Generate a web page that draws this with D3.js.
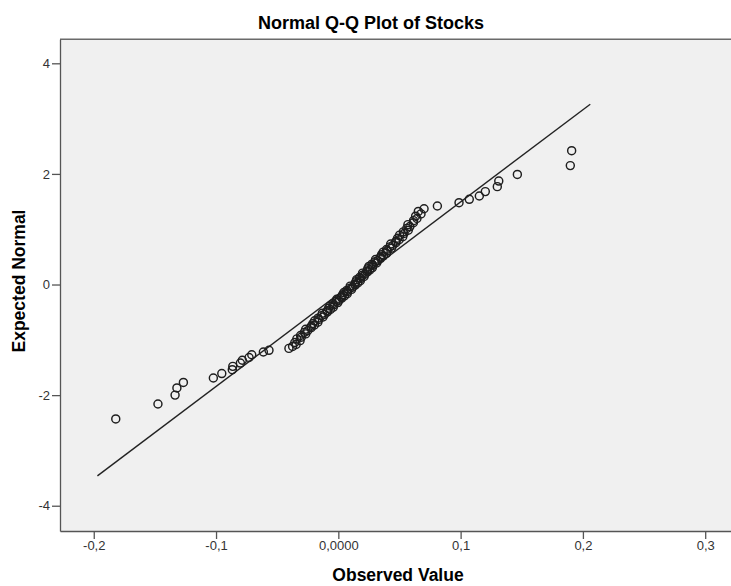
<!DOCTYPE html>
<html>
<head>
<meta charset="utf-8">
<script src="https://cdn.jsdelivr.net/npm/d3@7"></script>
<style>
body { margin: 0; background: #fff; }
svg { display: block; }
text { font-family: "Liberation Sans", Arial, sans-serif; }
</style>
</head>
<body>
<svg id="chart"></svg>
<script>
var observed = [
-0.182, -0.1475, -0.1335, -0.132, -0.1267, -0.1022, -0.0953, -0.0867, -0.0863, -0.0801,
-0.0785, -0.073, -0.0708, -0.0613, -0.0567, -0.0404, -0.0374,
-0.0345, -0.0356, -0.0313, -0.0339, -0.0303, -0.0309, -0.0267,
-0.0278, -0.0251, -0.0267, -0.0222, -0.0222, -0.0195, -0.0208,
-0.0167, -0.0194, -0.0160, -0.0166, -0.0125, -0.0137, -0.0113, -0.0131, -0.0089, -0.0091, -0.0065, -0.0080, -0.0041,
-0.0069, -0.0036, -0.0043, -0.0004, -0.0017, 0.0005, -0.0013, 0.0028, 0.0025, 0.0050,
0.0034, 0.0073, 0.0045, 0.0076, 0.0069, 0.0108, 0.0094, 0.0116, 0.0097, 0.0138,
0.0135, 0.0159, 0.0143, 0.0180, 0.0150, 0.0181, 0.0173, 0.0211, 0.0196, 0.0217,
0.0198, 0.0238, 0.0234, 0.0258, 0.0241, 0.0279, 0.0250, 0.0282, 0.0275, 0.0314,
0.0301, 0.0323, 0.0304, 0.0346, 0.0344, 0.0369, 0.0354, 0.0394, 0.0367, 0.0400,
0.0394, 0.0434, 0.0422, 0.0445, 0.0428, 0.0471, 0.0471,
0.0497, 0.0484, 0.0527, 0.0501, 0.0537, 0.0531, 0.0572,
0.0560, 0.0585, 0.0569,
0.0614, 0.0615, 0.0643, 0.0632, 0.0676, 0.0654,
0.0701, 0.081, 0.0987, 0.1071, 0.1153, 0.1202, 0.130, 0.1312, 0.1464, 0.1897, 0.1908
];
var expected = [
-2.43, -2.16, -2.00, -1.87, -1.77, -1.69, -1.61, -1.54, -1.48, -1.42,
-1.37, -1.32, -1.27, -1.22, -1.19, -1.155, -1.12,
-1.083, -1.048, -1.015, -0.983, -0.952, -0.922, -0.893,
-0.865, -0.836, -0.809, -0.782, -0.756, -0.731, -0.705,
-0.681, -0.657, -0.633, -0.609, -0.586, -0.563, -0.540, -0.518, -0.496, -0.474, -0.452, -0.431, -0.410,
-0.389, -0.368, -0.347, -0.327, -0.306, -0.286, -0.266, -0.246, -0.226, -0.206,
-0.186, -0.166, -0.146, -0.127, -0.107, -0.088, -0.068, -0.049, -0.029, -0.010,
0.010, 0.029, 0.049, 0.068, 0.088, 0.107, 0.127, 0.146, 0.166, 0.186,
0.206, 0.226, 0.246, 0.266, 0.286, 0.306, 0.327, 0.347, 0.368, 0.389,
0.410, 0.431, 0.452, 0.474, 0.496, 0.518, 0.540, 0.563, 0.586, 0.609,
0.633, 0.657, 0.681, 0.705, 0.731, 0.756, 0.782,
0.809, 0.836, 0.865, 0.893, 0.922, 0.952, 0.983,
1.015, 1.048, 1.083,
1.118, 1.155, 1.194, 1.235, 1.277, 1.322,
1.37, 1.42, 1.48, 1.54, 1.60, 1.68, 1.77, 1.87, 1.99, 2.15, 2.42
];

// reference line end points
var refX = [-0.197, 0.206];
var refY = [-3.46, 3.26];

var xTicks = [-0.2, -0.1, 0, 0.1, 0.2, 0.3];
var xTickLabels = ["-0,2", "-0,1", "0,0000", "0,1", "0,2", "0,3"];
var yTicks = [-4, -2, 0, 2, 4];
var yTickLabels = ["-4", "-2", "0", "2", "4"];

var margins = {"top": 39.3, "left": 60, "bottom": 55, "right": 0};
var totalW = 731, totalH = 586;
var width = totalW - margins.left - margins.right;
var height = totalH - margins.top - margins.bottom;

var svg = d3.select("#chart").attr("width", totalW).attr("height", totalH);

var xScale = d3.scaleLinear().domain([-0.2276, 0.3211]).range([0, width]);
var yScale = d3.scaleLinear().domain([-4.457, 4.434]).range([height, 0]);

var g = svg.append("g").attr("transform", "translate(" + margins.left + "," + margins.top + ")");

// plot background
g.append("rect").attr("x", 0).attr("y", 0).attr("width", width + 5).attr("height", height)
  .style("fill", "#f0f0f0");
g.append("line").attr("x1", 0).attr("x2", width + 5).attr("y1", 0).attr("y2", 0)
  .style("stroke", "#6a6a6a").style("stroke-width", "1.5px");

var xAxis = d3.axisBottom(xScale).tickValues(xTicks).tickSize(8).tickSizeOuter(0).tickPadding(2)
  .tickFormat(function(d, i){ return xTickLabels[i]; });
var yAxis = d3.axisLeft(yScale).tickValues(yTicks).tickSize(8).tickSizeOuter(0).tickPadding(2)
  .tickFormat(function(d, i){ return yTickLabels[i]; });

var xG = g.append("g").attr("transform", "translate(0," + height + ")").call(xAxis);
var yG = g.append("g").call(yAxis);
[xG, yG].forEach(function(a){
  a.select(".domain").style("stroke", "#555").style("stroke-width", "1.3px");
  a.selectAll(".tick line").style("stroke", "#555").style("stroke-width", "1.3px");
  a.selectAll(".tick text").style("font-size", "13px").style("fill", "#333")
   .style("font-family", "\"Liberation Sans\", Arial, sans-serif");
});

// reference line
g.append("line")
  .attr("x1", xScale(refX[0])).attr("y1", yScale(refY[0]))
  .attr("x2", xScale(refX[1])).attr("y2", yScale(refY[1]))
  .style("stroke", "#222").style("stroke-width", "1.4px");

// points
g.append("g").selectAll("circle")
  .data(observed)
  .enter()
  .append("circle")
  .attr("cx", function(d){ return xScale(d); })
  .attr("cy", function(d, i){ return yScale(expected[i]); })
  .attr("r", 4)
  .style("fill", "none")
  .style("stroke", "#1e1e1e")
  .style("stroke-width", "1.45px");

// titles
svg.append("text").attr("x", 371).attr("y", 29).attr("text-anchor", "middle")
  .style("font-size", "18px").style("font-weight", "bold").text("Normal Q-Q Plot of Stocks");
svg.append("text").attr("x", 398).attr("y", 581).attr("text-anchor", "middle")
  .style("font-size", "17.5px").style("font-weight", "bold").text("Observed Value");
svg.append("text").attr("transform", "translate(25,281) rotate(-90)")
  .attr("text-anchor", "middle")
  .style("font-size", "17.5px").style("font-weight", "bold").text("Expected Normal");
</script>
</body>
</html>
